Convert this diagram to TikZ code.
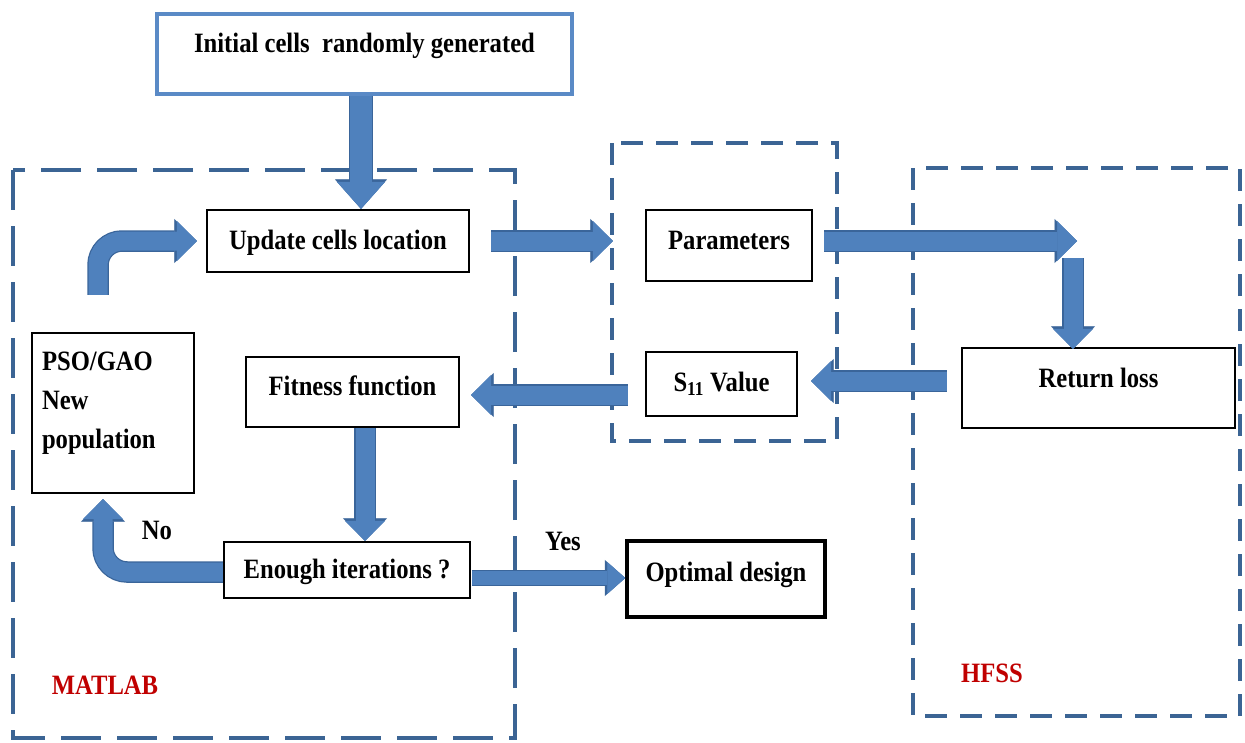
\documentclass[tikz,border=0pt]{standalone}
\usepackage{fontspec}
\setmainfont{Liberation Serif}[FakeStretch=0.88]
\usetikzlibrary{arrows.meta,calc}
\definecolor{arrblue}{HTML}{4F81BD}
\definecolor{arrdark}{HTML}{3A659A}
\definecolor{zoneblue}{HTML}{3B6494}
\definecolor{initblue}{HTML}{5A8AC6}
\definecolor{labred}{HTML}{C00000}
\tikzset{
  txt/.style={font=\bfseries\fontsize{28}{32}\selectfont},
  box/.style={txt, draw=black, line width=2.2pt, fill=white, inner sep=0pt, text height=20pt},
  zone/.style={draw=zoneblue, line width=4.5pt, dash pattern=on 22pt off 13pt},
  bigzone/.style={draw=zoneblue, line width=4.5pt, dash pattern=on 40pt off 16pt},
  fat/.style={preaction={draw=arrdark, line width=21.5pt, -{Triangle[length=22.5pt,width=44pt,line width=0.5pt]}},
    draw=arrblue, line width=19pt, -{Triangle[length=20pt,width=40pt,line width=0.5pt]}},
  thinfat/.style={preaction={draw=arrdark, line width=16.5pt, -{Triangle[length=20.5pt,width=36pt,line width=0.5pt]}},
    draw=arrblue, line width=14pt, -{Triangle[length=18pt,width=32pt,line width=0.5pt]}},
  vfat/.style={preaction={draw=arrdark, line width=24.5pt, -{Triangle[length=29.5pt,width=52pt,line width=0.5pt]}},
    draw=arrblue, line width=22pt, -{Triangle[length=27pt,width=48pt,line width=0.5pt]}},
  zonelab/.style={font=\bfseries\fontsize{28}{30}\selectfont, text=labred}
}
\begin{document}
\begin{tikzpicture}[x=1pt,y=-1pt]
\useasboundingbox (0,0) rectangle (1245,742);
% zones
\draw[bigzone] (13,170) rectangle (515,738);
\draw[zone] (612,143) rectangle (837,441);
\draw[zone] (913,168) rectangle (1240,716);
% boxes
\node[box, draw=initblue, line width=3.5pt, minimum width=415pt, minimum height=80pt, text depth=24pt] (init) at (364.5,54) {Initial cells\ \ randomly generated};
\node[box, minimum width=262pt, minimum height=62pt, text depth=4pt] (upd) at (338,241) {Update cells location};
\node[box, minimum width=166pt, minimum height=71pt, text depth=13pt] (params) at (729,245.5) {Parameters};
\node[box, minimum width=273pt, minimum height=80pt, text depth=22pt] (rl) at (1098.5,388) {Return loss};
\node[box, minimum width=151pt, minimum height=64pt, text depth=6pt] (s11) at (721.5,384) {S\textsubscript{11} Value};
\node[box, minimum width=213pt, minimum height=70pt, text depth=14pt] (fit) at (352.5,392) {Fitness function};
\node[box, minimum width=246pt, minimum height=56pt, text depth=0pt, text height=17pt] (enough) at (347,570) {Enough iterations ?};
\node[box, line width=3.5pt, minimum width=198pt, minimum height=76pt, text depth=16pt] (opt) at (726,579) {Optimal design};
\node[box, minimum width=162pt, minimum height=160pt, inner xsep=10pt, inner ysep=19pt, text height=, text depth=] (pso) at (113,413)
  {\parbox[c][122pt][t]{142pt}{\baselineskip=39pt PSO/GAO\\New\\population}};
% labels
\node[txt] (yes) at (563,541) {Yes};
\node[txt] (no) at (157,530) {No};
\node[zonelab] (matlab) at (105,685) {MATLAB};
\node[zonelab] (hfss) at (992,673) {HFSS};
% connector helper points
\coordinate (turn) at (1073,241);
\coordinate (a1s) at ($(init.south)+(-3.5,0)$);
\coordinate (a1e) at (a1s |- upd.north);
\coordinate (a2s) at ($(fit.south)+(12.5,0)$);
\coordinate (a2e) at (a2s |- enough.north);
\coordinate (a3s) at ($(turn)+(0,17)$);
\coordinate (a3e) at ($(turn |- rl.north)+(0,2)$);
% connectors
\draw[vfat] (a1s) -- (a1e);
\draw[fat] ($(upd.east)+(21,0)$) -- ($(params.west |- upd.east)+(-32,0)$);
\draw[fat] ($(params.east |- turn)+(11,0)$) -- ($(turn)+(4,0)$);
\draw[fat] (a3s) -- (a3e);
\draw[fat] ($(rl.west |- s11.east)+(-14,-3)$) -- ($(s11.east)+(13,-3)$);
\draw[fat] ($(s11.west)+(-17,11)$) -- ($(fit.east)+(11,3)$);
\draw[fat] (a2s) -- (a2e);
\draw[thinfat] ($(enough.east)+(1,8)$) -- ($(opt.west)+(0,-1)$);
\draw[fat, rounded corners=24pt, shorten >=5pt] ($(enough.west)+(0,2)$) -| ($(pso.south)+(-10,0)$);
\draw[fat, rounded corners=24pt, shorten >=9pt] ($(pso.north)+(-15,-37)$) |- (upd.west);
\end{tikzpicture}
\end{document}
